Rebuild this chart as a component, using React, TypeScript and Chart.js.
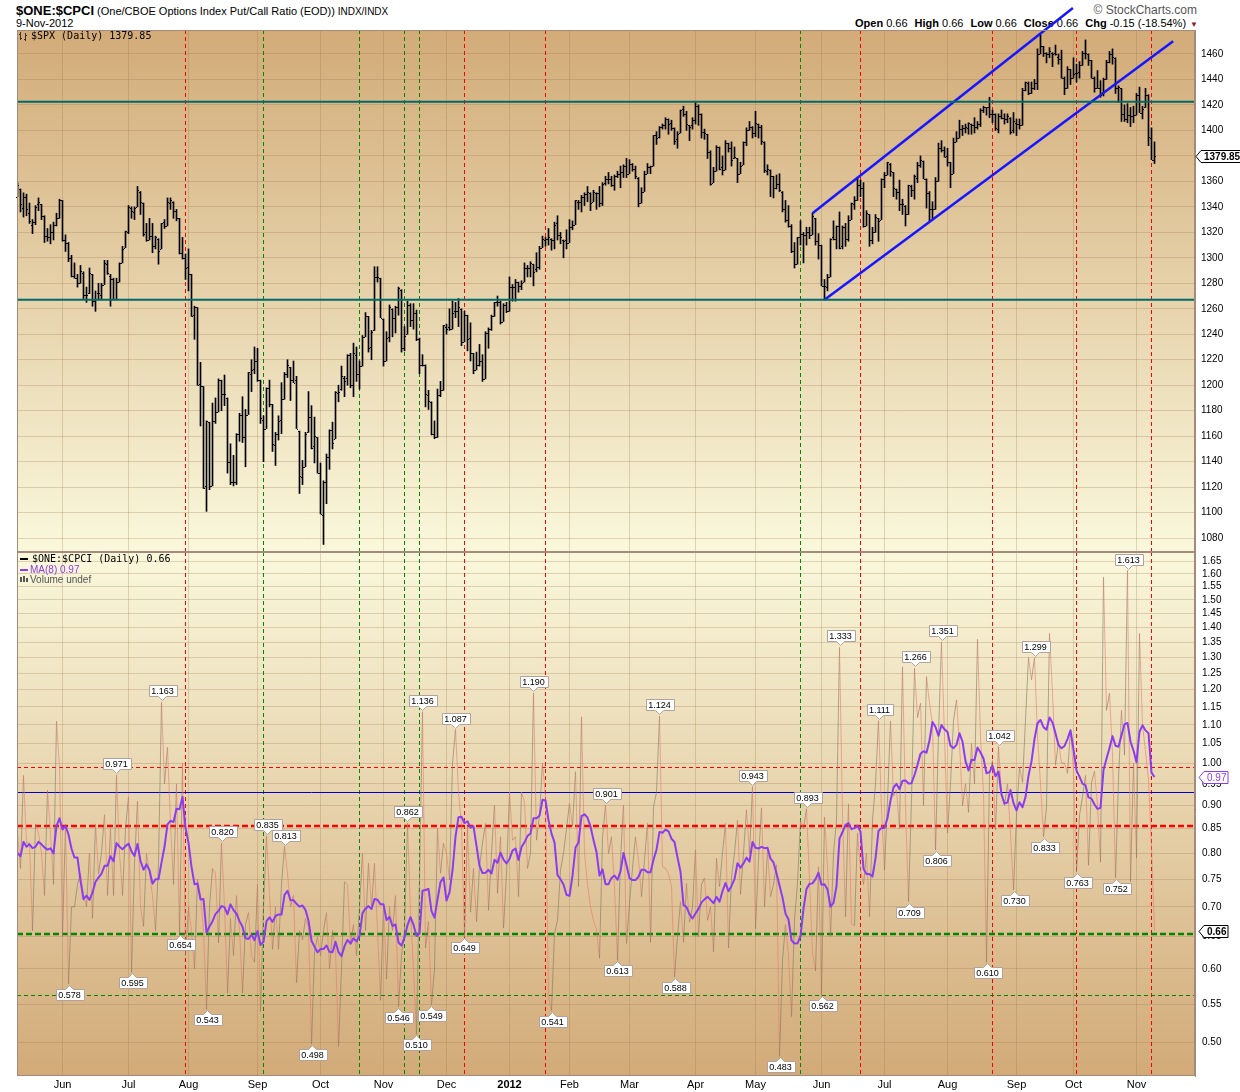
import React, { useEffect, useRef } from 'react';
import { Chart, registerables } from 'chart.js';

Chart.register(...registerables);

// ---------------- sessions ----------------
const firstSession = '2011-05-10';
const lastSession = '2012-11-09';
const marketHolidays = [
  '2011-05-30', '2011-07-04', '2011-09-05', '2011-11-24', '2011-12-26',
  '2012-01-02', '2012-01-16', '2012-02-20', '2012-04-06', '2012-05-28',
  '2012-07-04', '2012-09-03', '2012-10-29', '2012-10-30',
];
const monthNames = ['Jan', 'Feb', 'Mar', 'Apr', 'May', 'Jun', 'Jul', 'Aug', 'Sep', 'Oct', 'Nov', 'Dec'];

// ---------------- $SPX daily bars [open, high, low, close] ----------------
const spxMayAug2011 = [
  [1348,1359,1348,1357],[1354,1354,1336,1342],[1339,1351,1332,1348],[1348,1350,1333,1338],[1335,1343,1327,1329],
  [1326,1330,1319,1328],[1328,1341,1326,1340],[1342,1347,1337,1344],[1342,1342,1330,1333],[1333,1333,1312,1317],
  [1317,1323,1313,1316],[1316,1326,1311,1320],[1320,1328,1314,1326],[1326,1335,1325,1331],[1331,1346,1331,1345],
  [1345,1345,1313,1314],[1314,1318,1305,1312],[1312,1312,1297,1300],[1300,1302,1285,1286],[1286,1296,1284,1284],
  [1284,1287,1277,1280],[1280,1294,1280,1290],[1288,1289,1268,1271],[1271,1277,1265,1271],[1272,1292,1272,1288],
  [1287,1287,1262,1266],[1266,1274,1258,1268],[1272,1280,1267,1272],[1271,1280,1267,1279],[1279,1298,1279,1296],
  [1295,1298,1287,1288],[1286,1287,1262,1283],[1283,1284,1267,1268],[1268,1284,1267,1281],[1281,1296,1281,1296],
  [1296,1309,1296,1307],[1308,1321,1308,1321],
  [1320,1341,1319,1340],[1339,1340,1331,1337],[1336,1340,1330,1339],[1340,1356,1340,1353],[1352,1352,1334,1344],
  [1343,1343,1317,1319],[1320,1327,1313,1314],[1314,1331,1314,1317],[1317,1327,1304,1309],[1309,1317,1307,1316],
  [1315,1315,1295,1305],[1307,1327,1307,1327],[1328,1330,1323,1325],[1325,1347,1325,1344],[1343,1347,1338,1345],
  [1344,1344,1331,1337],[1337,1338,1329,1331],[1331,1331,1303,1304],[1304,1316,1299,1300],[1300,1303,1283,1292],
  [1293,1307,1274,1287],[1287,1287,1254,1254],[1255,1262,1236,1261],[1261,1261,1200,1200],[1201,1218,1168,1199],
  [1199,1199,1119,1119],[1121,1172,1101,1172],[1171,1171,1118,1121],[1121,1186,1121,1172],[1172,1190,1170,1179],
  [1179,1205,1179,1204],[1204,1204,1180,1193],[1193,1208,1184,1193],[1190,1190,1131,1140],[1140,1154,1122,1124],
  [1124,1145,1121,1124],[1124,1162,1122,1162],[1162,1178,1156,1177],[1177,1191,1155,1159],[1159,1181,1136,1177],
  [1177,1210,1177,1210],[1209,1220,1195,1212],[1213,1230,1209,1219],
];
const spxSepDec2011 = [
  [1219,1229,1203,1204],[1204,1204,1170,1174],[1173,1176,1140,1166],[1166,1198,1166,1198],[1198,1204,1183,1185],
  [1185,1185,1148,1154],[1153,1163,1137,1162],[1162,1176,1157,1172],[1173,1202,1162,1189],[1189,1210,1189,1209],
  [1209,1220,1206,1216],[1214,1214,1188,1204],[1204,1219,1202,1202],[1204,1207,1166,1166],[1164,1164,1115,1129],
  [1128,1141,1122,1136],[1136,1163,1136,1162],[1163,1195,1163,1175],[1175,1184,1150,1151],[1152,1175,1139,1160],
  [1159,1159,1131,1131],
  [1131,1139,1099,1099],[1098,1125,1075,1124],[1124,1146,1107,1144],[1144,1165,1134,1165],[1165,1171,1150,1155],
  [1158,1195,1158,1195],[1194,1200,1187,1195],[1197,1215,1196,1207],[1206,1207,1191,1203],[1206,1224,1200,1224],
  [1224,1225,1198,1200],[1200,1233,1191,1225],[1224,1230,1203,1209],[1209,1219,1197,1215],[1215,1239,1215,1238],
  [1238,1257,1238,1254],[1254,1254,1226,1229],[1230,1243,1220,1242],[1243,1293,1243,1285],[1285,1293,1281,1285],
  [1284,1284,1253,1253],
  [1252,1252,1215,1219],[1219,1242,1219,1237],[1238,1263,1234,1261],[1260,1260,1238,1253],[1253,1262,1241,1261],
  [1261,1277,1255,1276],[1275,1275,1226,1229],[1229,1246,1227,1239],[1240,1266,1240,1263],[1263,1264,1246,1251],
  [1251,1264,1244,1257],[1257,1259,1235,1236],[1236,1237,1209,1216],[1216,1224,1215,1216],[1216,1216,1183,1193],
  [1192,1196,1181,1188],[1187,1187,1161,1162],[1162,1172,1158,1159],[1159,1197,1159,1192],[1192,1203,1191,1196],
  [1196,1247,1196,1247],
  [1246,1248,1240,1244],[1246,1260,1243,1244],[1244,1266,1244,1257],[1258,1265,1253,1258],[1258,1268,1246,1261],
  [1260,1260,1231,1234],[1234,1258,1234,1255],[1255,1255,1227,1236],[1237,1249,1219,1225],[1225,1225,1209,1212],
  [1212,1226,1212,1216],[1216,1232,1215,1219],[1219,1224,1203,1205],[1205,1242,1205,1241],[1241,1245,1229,1244],
  [1244,1255,1243,1254],[1254,1265,1254,1265],[1265,1270,1262,1265],[1265,1266,1248,1250],[1250,1264,1250,1263],
  [1263,1265,1257,1258],
];
const spxJanApr2012 = [
  [1258,1285,1258,1277],[1277,1279,1266,1277],[1277,1283,1266,1281],[1281,1281,1273,1278],[1278,1282,1275,1280],
  [1281,1296,1281,1292],[1292,1294,1285,1292],[1292,1297,1285,1296],[1295,1295,1278,1289],[1291,1304,1289,1293],
  [1293,1309,1291,1308],[1308,1317,1308,1315],[1314,1316,1309,1315],[1315,1323,1310,1316],[1315,1315,1306,1314],
  [1314,1328,1307,1326],[1327,1333,1314,1318],[1318,1320,1311,1316],[1314,1314,1300,1313],[1314,1322,1307,1312],
  [1312,1330,1312,1324],[1324,1329,1322,1326],[1326,1345,1326,1345],[1344,1345,1338,1344],[1344,1349,1336,1348],
  [1348,1351,1341,1350],[1350,1356,1344,1352],[1351,1351,1337,1343],[1344,1353,1344,1352],[1351,1351,1338,1351],
  [1351,1356,1340,1343],[1343,1359,1341,1358],[1359,1364,1357,1362],[1362,1367,1358,1362],[1362,1364,1356,1357],
  [1357,1365,1353,1364],[1364,1368,1363,1366],[1366,1372,1355,1367],[1367,1373,1363,1372],[1372,1378,1363,1366],
  [1366,1377,1366,1374],[1374,1374,1368,1370],[1370,1372,1362,1364],[1363,1363,1340,1343],[1343,1355,1343,1352],
  [1352,1368,1352,1366],[1366,1374,1366,1371],[1371,1372,1366,1372],[1372,1396,1372,1396],[1396,1399,1389,1394],
  [1395,1403,1394,1403],[1403,1405,1401,1404],[1404,1410,1401,1409],[1409,1409,1397,1405],[1406,1408,1400,1402],
  [1402,1402,1389,1392],[1393,1399,1386,1397],[1398,1416,1398,1416],[1417,1419,1411,1413],[1413,1415,1400,1405],
  [1404,1404,1392,1403],[1404,1410,1401,1408],
  [1408,1422,1405,1419],[1419,1420,1404,1413],[1413,1413,1394,1399],[1399,1401,1393,1398],[1397,1397,1378,1383],
  [1383,1384,1357,1358],[1359,1371,1359,1368],[1368,1388,1368,1387],[1387,1387,1369,1370],[1371,1380,1365,1369],
  [1369,1392,1369,1390],[1390,1390,1383,1386],[1386,1391,1372,1377],[1378,1387,1378,1379],[1378,1378,1359,1366],
  [1366,1375,1366,1372],[1373,1391,1373,1391],[1391,1402,1388,1400],[1400,1407,1400,1403],[1403,1403,1394,1398],
];
const spxMayAug2012 = [
  [1398,1415,1395,1406],[1405,1405,1394,1403],[1403,1404,1389,1392],[1391,1391,1367,1369],[1368,1373,1365,1370],
  [1369,1369,1348,1364],[1364,1364,1347,1355],[1355,1365,1354,1358],[1358,1366,1352,1353],[1352,1352,1336,1338],
  [1338,1345,1328,1330],[1330,1341,1324,1325],[1325,1326,1304,1305],[1305,1312,1292,1295],[1295,1316,1295,1316],
  [1316,1329,1310,1319],[1319,1320,1296,1318],[1318,1324,1310,1320],[1320,1324,1315,1318],[1318,1335,1318,1333],
  [1331,1331,1310,1313],[1313,1319,1299,1310],
  [1310,1310,1278,1278],[1278,1283,1267,1278],[1277,1287,1274,1285],[1285,1315,1285,1315],[1316,1329,1314,1315],
  [1315,1325,1307,1325],[1325,1336,1307,1308],[1309,1325,1307,1324],[1324,1327,1309,1315],[1315,1333,1313,1330],
  [1330,1343,1330,1343],[1342,1348,1338,1345],[1345,1363,1345,1357],[1357,1361,1348,1355],[1355,1359,1324,1325],
  [1325,1337,1325,1335],[1334,1334,1309,1314],[1314,1324,1311,1320],[1320,1334,1320,1332],[1331,1331,1313,1329],
  [1330,1362,1330,1362],
  [1362,1367,1355,1365],[1365,1375,1365,1375],[1374,1374,1364,1368],[1367,1367,1348,1355],[1354,1354,1346,1352],
  [1352,1361,1337,1342],[1342,1346,1334,1342],[1341,1341,1325,1334],[1334,1357,1334,1357],[1356,1357,1348,1353],
  [1353,1365,1346,1364],[1363,1375,1359,1373],[1373,1380,1371,1377],[1376,1376,1362,1362],[1362,1362,1339,1351],
  [1351,1352,1329,1338],[1338,1344,1331,1338],[1338,1363,1338,1360],[1360,1390,1360,1386],[1386,1392,1383,1385],
  [1385,1387,1379,1379],
  [1380,1386,1372,1375],[1375,1375,1355,1366],[1366,1394,1366,1391],[1391,1399,1391,1394],[1394,1408,1394,1401],
  [1401,1404,1396,1402],[1402,1405,1398,1403],[1402,1406,1397,1406],[1405,1405,1397,1404],[1404,1410,1398,1403],
  [1403,1407,1401,1405],[1405,1417,1403,1416],[1416,1419,1414,1418],[1418,1418,1412,1418],[1418,1426,1410,1413],
  [1413,1416,1406,1413],[1413,1413,1400,1402],[1401,1413,1398,1411],[1411,1416,1409,1410],[1410,1413,1405,1409],
  [1409,1413,1406,1411],[1410,1410,1397,1399],[1400,1414,1398,1407],
];
const spxSepNov2012 = [
  [1406,1409,1396,1405],[1405,1409,1401,1404],[1404,1433,1404,1432],[1432,1438,1431,1438],[1437,1438,1428,1429],
  [1429,1438,1429,1433],[1433,1440,1432,1437],[1437,1464,1432,1460],[1460,1475,1460,1466],[1466,1466,1458,1461],
  [1461,1461,1453,1460],[1460,1465,1457,1462],[1461,1461,1450,1460],[1461,1467,1459,1460],[1458,1460,1452,1456],
  [1456,1463,1441,1441],[1441,1442,1428,1433],[1433,1450,1433,1448],[1448,1448,1436,1441],
  [1441,1457,1441,1444],[1445,1452,1438,1445],[1446,1454,1441,1451],[1451,1462,1451,1461],[1461,1471,1456,1461],
  [1460,1460,1451,1455],[1455,1455,1441,1441],[1441,1442,1430,1433],[1433,1447,1433,1433],[1433,1439,1426,1428],
  [1429,1441,1427,1440],[1440,1455,1440,1454],[1454,1462,1453,1460],[1460,1464,1452,1458],[1457,1457,1429,1433],
  [1433,1435,1422,1434],[1433,1433,1407,1413],[1413,1420,1407,1409],[1409,1421,1406,1412],[1412,1418,1403,1411],
  [1411,1419,1406,1412],
  [1412,1429,1412,1428],[1428,1434,1414,1414],[1414,1419,1409,1417],[1418,1433,1418,1428],[1428,1428,1388,1395],
  [1394,1402,1377,1377],[1377,1391,1374,1379.85],
];

// ---------------- $ONE:$CPCI daily ratio ----------------
const putCallPrior = [0.82, 0.74, 0.90, 0.78, 0.72, 0.84, 0.76];
const putCall2011 = [
  0.84, 0.77, 0.97, 0.82, 0.82, 0.66, 0.86, 0.84, 0.80, 0.72,
  0.935, 0.84, 0.74, 1.11, 0.99, 0.65, 0.86, 0.578, 0.70, 0.70,
  0.74, 0.76, 0.72, 0.70, 0.80, 0.68, 0.86, 0.76, 0.80, 0.88,
  0.72, 0.85, 0.72, 0.971, 0.80, 0.72, 0.85, 0.92, 0.595, 0.78,
  0.91, 0.70, 0.667, 0.80, 0.76, 0.72, 0.66, 0.78, 1.163, 0.95,
  1.04, 0.86, 0.74, 0.95, 0.654, 1.00, 0.62, 0.70, 0.66, 0.60,
  0.75, 0.72, 0.66, 0.543, 0.70, 0.77, 0.76, 0.64, 0.820, 0.70,
  0.565, 0.68, 0.62, 0.72, 0.66, 0.565, 0.67, 0.69, 0.62, 0.61,
  0.74, 0.54, 0.70, 0.835, 0.72, 0.63, 0.70, 0.63, 0.74, 0.813,
  0.76, 0.70, 0.72, 0.58, 0.66, 0.645, 0.68, 0.665, 0.498, 0.625,
  0.65, 0.62, 0.66, 0.69, 0.60, 0.66, 0.63, 0.495, 0.60, 0.745,
  0.74, 0.64, 0.67, 0.62, 0.70, 0.80, 0.66, 0.78, 0.70, 0.78,
  0.66, 0.555, 0.70, 0.585, 0.70, 0.66, 0.72, 0.546, 0.62, 0.66,
  0.862, 0.69, 0.60, 0.510, 0.75, 1.136, 0.632, 0.675, 0.549, 0.60,
  0.851, 0.761, 0.82, 0.80, 0.748, 1.00, 1.087, 0.93, 0.857, 0.649,
  0.855, 0.691, 0.77, 0.675, 0.773, 0.82, 0.861, 0.694, 0.799, 0.901,
  0.724, 0.833, 0.664, 0.761,
];
const putCall2012 = [
  0.931, 0.826, 0.833, 0.718, 0.931, 0.908,
  0.77, 0.80, 1.190, 0.826, 0.879, 1.00, 0.92, 0.56, 0.541, 0.655,
  0.677, 0.767, 0.80, 0.85, 0.905, 0.855, 0.979, 0.736, 1.122, 0.80,
  0.74, 0.70, 0.677, 0.661, 0.616, 0.83, 0.901, 0.799, 0.833, 0.736,
  0.613, 0.787, 0.901, 0.639, 0.706, 0.77, 0.833, 0.787, 0.718, 0.787,
  0.861, 0.641, 0.897, 0.93, 1.124, 0.773, 0.77, 0.76, 0.736, 0.588,
  0.65, 0.709, 0.641, 0.742, 0.674, 0.70, 0.806, 0.65, 0.74, 0.752,
  0.677, 0.70, 0.626, 0.79, 0.736, 0.80, 0.861, 0.632, 0.754, 0.80,
  0.868, 0.722, 0.80, 0.891, 0.799, 0.943, 0.663, 0.787, 0.895, 0.70,
  0.806, 0.718, 0.74, 0.777, 0.483, 0.613, 0.67, 0.62, 0.533, 0.677,
  0.743, 0.868, 0.85, 0.893, 0.748, 0.624, 0.597, 0.773, 0.562, 0.875,
  0.773, 0.65, 0.80, 0.868, 1.333, 0.882, 0.683, 0.904, 0.671, 0.668,
  0.841, 0.767, 0.74, 0.80, 0.683, 0.868, 0.95, 1.111, 0.893, 0.767,
  0.91, 1.11, 0.922, 0.936, 0.85, 1.27, 0.90, 0.709, 0.915, 1.266,
  1.12, 1.16, 0.90, 1.24, 1.16, 1.10, 0.806, 1.076, 1.351, 1.068,
  0.841, 0.951, 1.11, 1.17, 1.05, 0.90, 0.95, 0.885, 1.05, 0.95,
  1.36, 1.068, 0.929, 0.61, 0.973, 1.007, 0.847, 1.042, 0.928, 0.90,
  0.95, 0.84, 0.730, 0.879, 0.99, 0.953, 1.113, 1.30, 1.23, 1.299,
  1.07, 0.95, 0.833, 0.897, 1.38, 1.19, 0.995, 1.055, 1.0, 1.0,
  0.975, 1.085, 0.98, 0.763, 0.879, 0.92, 0.97, 0.776, 0.953, 0.98,
  0.90, 0.782, 1.587, 1.14, 1.19, 1.023, 0.752, 0.96, 1.14, 1.02,
  1.613, 0.745, 1.0, 0.79, 1.38, 1.10, 1.03, 0.96, 0.8102, 0.66,
];
const maPeriod = 8;

// labelled turning points (session indices)
const peakIdx = [33, 48, 68, 83, 89, 130, 135, 146, 172, 196, 214, 245, 263, 274, 287, 299, 308, 327, 339, 370];
const troughIdx = [17, 38, 54, 63, 98, 127, 133, 138, 149, 178, 200, 219, 254, 268, 297, 306, 323, 332, 342, 353, 366];

// ---------------- annotations ----------------
const spxTicks = [1080, 1100, 1120, 1140, 1160, 1180, 1200, 1220, 1240, 1260, 1280, 1300, 1320, 1340, 1360, 1380, 1400, 1420, 1440, 1460];
const ratioTicks = [0.50, 0.55, 0.60, 0.65, 0.70, 0.75, 0.80, 0.85, 0.90, 0.95, 1.00, 1.05, 1.10, 1.15, 1.20, 1.25, 1.30, 1.35, 1.40, 1.45, 1.50, 1.55, 1.60, 1.65];
const spxLevels = [1422.4, 1267.0];
const channelUpper = [[265, 1335], [351.8, 1496]];
const channelLower = [[269, 1267], [385.2, 1470]];
const ratioLevels = [0.99, 0.93, 0.855, 0.655, 0.563];
const redMarkerDates = ['2011-07-29', '2011-12-09', '2012-01-20', '2012-06-20', '2012-08-22', '2012-10-02', '2012-11-08'];
const greenMarkerDates = ['2011-09-06', '2011-10-20', '2011-11-10', '2011-11-17', '2012-05-22'];

// ---------------- styling ----------------
const X_MIN = -1 / 6;
const X_MAX = 392.5;
const SPX_MIN = 1069.1;
const SPX_MAX = 1478.8;
const RATIO_MIN = 0.46;
const RATIO_MAX = 1.689;
const GRID = 'rgba(150,115,70,0.27)';
const FRAME = '#a48a7a';
const SANS = '"Liberation Sans", Arial, sans-serif';
const MONO = '"DejaVu Sans Mono", monospace';
const MA_COLOR = '#8c3cf0';
const ratioLevelStyles = [
  { color: '#ff0000', width: 1, dash: [4, 3] },
  { color: '#0000c8', width: 1, dash: [] },
  { color: '#ff0000', width: 2.5, dash: [6, 3] },
  { color: '#008800', width: 2.5, dash: [6, 3] },
  { color: '#008800', width: 1, dash: [4, 3] },
];

// ---------------- derived ----------------
function buildSessions() {
  const out: string[] = [];
  const d = new Date(firstSession + 'T12:00:00Z');
  const end = new Date(lastSession + 'T12:00:00Z');
  while (d.getTime() <= end.getTime()) {
    const dow = d.getUTCDay();
    const iso = d.toISOString().slice(0, 10);
    if (dow !== 0 && dow !== 6 && marketHolidays.indexOf(iso) < 0) out.push(iso);
    d.setUTCDate(d.getUTCDate() + 1);
  }
  return out;
}
const sessions = buildSessions();
const spxBars = [...spxMayAug2011, ...spxSepDec2011, ...spxJanApr2012, ...spxMayAug2012, ...spxSepNov2012];
const putCall = [...putCall2011, ...putCall2012];
const maValues = (() => {
  const full = [...putCallPrior, ...putCall];
  const out: number[] = [];
  for (let i = 0; i < putCall.length; i++) {
    let s = 0;
    for (let k = 0; k < maPeriod; k++) s += full[i + putCallPrior.length - k];
    out.push(s / maPeriod);
  }
  return out;
})();
const monthTicks = (() => {
  const out: { idx: number; label: string; bold: boolean }[] = [];
  for (let i = 1; i < sessions.length; i++) {
    if (sessions[i].slice(5, 7) !== sessions[i - 1].slice(5, 7)) {
      const m = parseInt(sessions[i].slice(5, 7), 10) - 1;
      out.push({ idx: i, label: m === 0 ? sessions[i].slice(0, 4) : monthNames[m], bold: m === 0 });
    }
  }
  return out;
})();

function drawMarkers(chart: any) {
  const { ctx, chartArea: a, scales } = chart;
  const x = scales.x;
  ctx.save();
  ctx.lineWidth = 1;
  ctx.setLineDash([4, 3]);
  const groups: [string[], string][] = [[redMarkerDates, '#ff0000'], [greenMarkerDates, '#008800']];
  for (const [dates, color] of groups) {
    ctx.strokeStyle = color;
    for (const d of dates) {
      const i = sessions.indexOf(d);
      if (i < 0) continue;
      const px = Math.floor(x.getPixelForValue(i)) + 0.5;
      ctx.beginPath();
      ctx.moveTo(px, a.top);
      ctx.lineTo(px, a.bottom);
      ctx.stroke();
    }
  }
  ctx.restore();
}

function fillPanel(chart: any, c0: string, c1: string) {
  const { ctx, chartArea: a } = chart;
  const g = ctx.createLinearGradient(0, a.top, 0, a.bottom);
  g.addColorStop(0, c0);
  g.addColorStop(1, c1);
  ctx.save();
  ctx.fillStyle = g;
  ctx.fillRect(a.left, a.top, a.right - a.left, a.bottom - a.top);
  ctx.restore();
}

function drawFrame(chart: any) {
  const { ctx, chartArea: a } = chart;
  ctx.save();
  ctx.strokeStyle = FRAME;
  ctx.lineWidth = 1;
  ctx.strokeRect(a.left + 0.5, a.top + 0.5, a.right - a.left - 1, a.bottom - a.top - 1);
  ctx.restore();
}

function priceTag(ctx: any, xTip: number, y: number, text: string, color: string, bold: boolean) {
  ctx.save();
  ctx.font = (bold ? 'bold ' : '') + '10px ' + SANS;
  const w = Math.round(ctx.measureText(text).width) + 5;
  const h = 12;
  const yy = Math.round(y) + 0.5;
  const x0 = xTip + 5;
  ctx.beginPath();
  ctx.moveTo(xTip, yy);
  ctx.lineTo(x0, yy - h / 2);
  ctx.lineTo(x0 + w, yy - h / 2);
  ctx.lineTo(x0 + w, yy + h / 2);
  ctx.lineTo(x0, yy + h / 2);
  ctx.closePath();
  ctx.fillStyle = '#ffffff';
  ctx.fill();
  ctx.strokeStyle = color;
  ctx.lineWidth = 1;
  ctx.stroke();
  ctx.fillStyle = color;
  ctx.textAlign = 'left';
  ctx.textBaseline = 'middle';
  ctx.fillText(text, x0 + 3, yy + 0.5);
  ctx.restore();
}

function valueLabel(ctx: any, x: number, y: number, text: string, above: boolean) {
  ctx.font = '9px ' + SANS;
  const w = Math.round(ctx.measureText(text).width) + 5;
  const h = 11;
  const cx = Math.round(x) + 0.5;
  const left = Math.round(cx - w / 2) + 0.5;
  const right = left + w;
  let textY;
  ctx.beginPath();
  if (above) {
    const tip = Math.round(y) - 1.5;
    const bottom = tip - 4;
    const top = bottom - h;
    ctx.moveTo(left, top);
    ctx.lineTo(right, top);
    ctx.lineTo(right, bottom);
    ctx.lineTo(cx + 4, bottom);
    ctx.lineTo(cx, tip);
    ctx.lineTo(cx - 4, bottom);
    ctx.lineTo(left, bottom);
    ctx.closePath();
    textY = (top + bottom) / 2;
  } else {
    const tip = Math.round(y) + 1.5;
    const top = tip + 4;
    const bottom = top + h;
    ctx.moveTo(left, top);
    ctx.lineTo(cx - 4, top);
    ctx.lineTo(cx, tip);
    ctx.lineTo(cx + 4, top);
    ctx.lineTo(right, top);
    ctx.lineTo(right, bottom);
    ctx.lineTo(left, bottom);
    ctx.closePath();
    textY = (top + bottom) / 2;
  }
  ctx.fillStyle = '#ffffff';
  ctx.fill();
  ctx.strokeStyle = '#b4a29a';
  ctx.lineWidth = 1;
  ctx.stroke();
  ctx.fillStyle = '#000000';
  ctx.textAlign = 'center';
  ctx.textBaseline = 'middle';
  ctx.fillText(text, cx, textY + 0.5);
}

const topPanelPlugin = {
  id: 'spxPanel',
  beforeDraw(chart: any) {
    fillPanel(chart, '#d2ab78', '#faf8dc');
  },
  beforeDatasetsDraw(chart: any) {
    drawMarkers(chart);
  },
  afterDatasetsDraw(chart: any) {
    const { ctx, chartArea: a, scales } = chart;
    const xs = scales.x;
    const ys = scales.y;
    ctx.save();
    ctx.strokeStyle = '#000';
    ctx.lineWidth = 1;
    ctx.beginPath();
    spxBars.forEach((b, i) => {
      const x = xs.getPixelForValue(i);
      const yo = Math.round(ys.getPixelForValue(b[0])) + 0.5;
      const yc = Math.round(ys.getPixelForValue(b[3])) + 0.5;
      ctx.moveTo(x - 1.5, yo);
      ctx.lineTo(x - 0.5, yo);
      ctx.moveTo(x + 0.5, yc);
      ctx.lineTo(x + 1.5, yc);
    });
    ctx.stroke();
    ctx.strokeStyle = '#006a6a';
    ctx.lineWidth = 2;
    for (const lv of spxLevels) {
      const y = ys.getPixelForValue(lv);
      ctx.beginPath();
      ctx.moveTo(a.left, y);
      ctx.lineTo(a.right, y);
      ctx.stroke();
    }
    ctx.restore();
  },
  afterDraw(chart: any) {
    const { ctx, chartArea: a, scales } = chart;
    drawFrame(chart);
    ctx.save();
    ctx.strokeStyle = '#333';
    ctx.lineWidth = 1;
    ctx.beginPath();
    ctx.moveTo(20.5, 32); ctx.lineTo(20.5, 40);
    ctx.moveTo(19, 34.5); ctx.lineTo(20.5, 34.5);
    ctx.moveTo(20.5, 38.5); ctx.lineTo(22, 38.5);
    ctx.moveTo(25.5, 33); ctx.lineTo(25.5, 41);
    ctx.moveTo(24, 39.5); ctx.lineTo(25.5, 39.5);
    ctx.moveTo(25.5, 35.5); ctx.lineTo(27, 35.5);
    ctx.stroke();
    const last = spxBars[spxBars.length - 1][3];
    ctx.font = '10px ' + MONO;
    ctx.fillStyle = '#000';
    ctx.textBaseline = 'middle';
    ctx.textAlign = 'left';
    ctx.fillText('$SPX (Daily) ' + last.toFixed(2), 31, a.top + 6.5);
    ctx.restore();
    priceTag(ctx, a.right + 1, scales.y.getPixelForValue(last), last.toFixed(2), '#000', true);
  },
};

const bottomPanelPlugin = {
  id: 'ratioPanel',
  beforeDraw(chart: any) {
    fillPanel(chart, '#faf8dc', '#d2aa78');
  },
  beforeDatasetsDraw(chart: any) {
    const { ctx, chartArea: a, scales } = chart;
    drawMarkers(chart);
    ctx.save();
    ratioLevels.forEach((lv, k) => {
      const st = ratioLevelStyles[k];
      const y = Math.round(scales.y.getPixelForValue(lv)) + (st.width === 1 ? 0.5 : 0);
      ctx.strokeStyle = st.color;
      ctx.lineWidth = st.width;
      ctx.setLineDash(st.dash);
      ctx.beginPath();
      ctx.moveTo(a.left, y);
      ctx.lineTo(a.right, y);
      ctx.stroke();
    });
    ctx.restore();
  },
  afterDatasetsDraw(chart: any) {
    const { ctx, scales } = chart;
    ctx.save();
    for (const i of peakIdx) valueLabel(ctx, scales.x.getPixelForValue(i), scales.y.getPixelForValue(putCall[i]), putCall[i].toFixed(3), true);
    for (const i of troughIdx) valueLabel(ctx, scales.x.getPixelForValue(i), scales.y.getPixelForValue(putCall[i]), putCall[i].toFixed(3), false);
    ctx.restore();
  },
  afterDraw(chart: any) {
    const { ctx, chartArea: a, scales } = chart;
    drawFrame(chart);
    const lastV = putCall[putCall.length - 1];
    const lastMa = maValues[maValues.length - 1];
    ctx.save();
    ctx.textBaseline = 'middle';
    ctx.textAlign = 'left';
    ctx.lineWidth = 2;
    ctx.strokeStyle = '#000';
    ctx.beginPath(); ctx.moveTo(20, a.top + 7); ctx.lineTo(28, a.top + 7); ctx.stroke();
    ctx.font = '10px ' + MONO;
    ctx.fillStyle = '#000';
    ctx.fillText('$ONE:$CPCI (Daily) ' + lastV.toFixed(2), 32, a.top + 7.5);
    ctx.strokeStyle = MA_COLOR;
    ctx.beginPath(); ctx.moveTo(20, a.top + 18); ctx.lineTo(28, a.top + 18); ctx.stroke();
    ctx.font = '10px ' + SANS;
    ctx.fillStyle = MA_COLOR;
    ctx.fillText('MA(8) ' + lastMa.toFixed(2), 30, a.top + 18.5);
    ctx.fillStyle = '#555';
    ctx.fillRect(20, a.top + 25, 2, 5);
    ctx.fillRect(23, a.top + 24, 2, 6);
    ctx.fillRect(26, a.top + 26, 2, 4);
    ctx.fillText('Volume undef', 30, a.top + 28.5);
    ctx.restore();
    priceTag(ctx, a.right + 4, scales.y.getPixelForValue(lastMa), lastMa.toFixed(2), MA_COLOR, false);
    priceTag(ctx, a.right + 4, scales.y.getPixelForValue(lastV), lastV.toFixed(2), '#000', true);
  },
};

function monthAxis(showLabels: boolean) {
  const janIdx = monthTicks.filter((t) => t.bold).map((t) => t.idx);
  return {
    type: 'linear',
    min: X_MIN,
    max: X_MAX,
    offset: false,
    afterBuildTicks: (s: any) => {
      s.ticks = monthTicks.map((t) => ({ value: t.idx }));
    },
    afterFit: (s: any) => {
      s.height = showLabels ? 16 : 0;
      s.paddingLeft = 0;
      s.paddingRight = 0;
    },
    ticks: {
      display: showLabels,
      autoSkip: false,
      maxRotation: 0,
      padding: 2,
      color: '#000',
      font: (c: any) => ({
        family: SANS,
        size: 11,
        weight: c.tick && janIdx.indexOf(c.tick.value) >= 0 ? 'bold' : 'normal',
      }),
      callback: (v: any) => {
        const t = monthTicks.find((m) => m.idx === v);
        return t ? t.label : '';
      },
    },
    grid: { color: GRID, drawTicks: false, offset: false },
    border: { display: false },
  };
}

function priceAxis(extra: any) {
  return {
    position: 'right',
    afterFit: (s: any) => {
      s.width = 45;
      s.paddingTop = 0;
      s.paddingBottom = 0;
    },
    grid: { color: GRID, drawTicks: false },
    border: { color: FRAME },
    ...extra,
  };
}

function buildTop(canvas: HTMLCanvasElement) {
  return new Chart(canvas, {
    type: 'line',
    data: {
      datasets: [
        {
          type: 'line',
          data: channelUpper.map(([x, y]) => ({ x, y })),
          borderColor: '#1616ff',
          borderWidth: 2.5,
          pointRadius: 0,
          clip: false,
          order: 1,
        },
        {
          type: 'line',
          data: channelLower.map(([x, y]) => ({ x, y })),
          borderColor: '#1616ff',
          borderWidth: 2.5,
          pointRadius: 0,
          clip: false,
          order: 1,
        },
        {
          type: 'bar',
          data: spxBars.map((b, i) => ({ x: i, y: [b[2], b[1]] })),
          backgroundColor: '#000',
          borderWidth: 0,
          barThickness: 1,
          order: 2,
        },
      ],
    } as any,
    options: {
      responsive: false,
      animation: false,
      devicePixelRatio: 1,
      events: [],
      layout: { padding: { left: 17, top: 30, right: 0, bottom: 0 } },
      plugins: { legend: { display: false }, tooltip: { enabled: false } },
      scales: {
        x: monthAxis(false),
        y: priceAxis({
          type: 'linear',
          min: SPX_MIN,
          max: SPX_MAX,
          beginAtZero: false,
          afterBuildTicks: (s: any) => {
            s.ticks = spxTicks.map((v) => ({ value: v }));
          },
          ticks: {
            autoSkip: false,
            padding: 6,
            color: '#000',
            font: { family: SANS, size: 10 },
            callback: (v: any) => String(v),
          },
        }),
      },
    } as any,
    plugins: [topPanelPlugin],
  });
}

function buildBottom(canvas: HTMLCanvasElement) {
  const up = 'rgba(120,118,95,0.58)';
  const down = 'rgba(232,118,105,0.58)';
  return new Chart(canvas, {
    type: 'line',
    data: {
      datasets: [
        {
          data: maValues.map((v, i) => ({ x: i, y: v })),
          borderColor: MA_COLOR,
          borderWidth: 2,
          pointRadius: 0,
          borderJoinStyle: 'round',
          order: 1,
        },
        {
          data: putCall.map((v, i) => ({ x: i, y: v })),
          borderColor: up,
          borderWidth: 1,
          pointRadius: 0,
          segment: {
            borderColor: (c: any) => (c.p1.parsed.y >= c.p0.parsed.y ? up : down),
          },
          order: 2,
        },
      ],
    } as any,
    options: {
      responsive: false,
      animation: false,
      devicePixelRatio: 1,
      events: [],
      layout: { padding: { left: 17, top: 0, right: 0, bottom: 0 } },
      plugins: { legend: { display: false }, tooltip: { enabled: false } },
      scales: {
        x: monthAxis(true),
        y: priceAxis({
          type: 'logarithmic',
          min: RATIO_MIN,
          max: RATIO_MAX,
          afterBuildTicks: (s: any) => {
            s.ticks = ratioTicks.map((v) => ({ value: v }));
          },
          ticks: {
            autoSkip: false,
            padding: 7,
            color: '#000',
            font: { family: SANS, size: 10 },
            callback: (v: any) => Number(v).toFixed(2),
          },
        }),
      },
    } as any,
    plugins: [bottomPanelPlugin],
  });
}

export default function App() {
  const topRef = useRef<HTMLCanvasElement>(null);
  const botRef = useRef<HTMLCanvasElement>(null);
  useEffect(() => {
    document.body.style.margin = '0';
    const top = buildTop(topRef.current as HTMLCanvasElement);
    const bot = buildBottom(botRef.current as HTMLCanvasElement);
    return () => {
      top.destroy();
      bot.destroy();
    };
  }, []);
  const lbl = { fontWeight: 'bold' as const, marginRight: 3 };
  const grp = { marginRight: 7 };
  return (
    <div style={{ position: 'relative', width: 1240, height: 1092, background: '#fff', overflow: 'hidden', fontFamily: SANS, color: '#000' }}>
      <div style={{ position: 'absolute', left: 16, top: 2, whiteSpace: 'nowrap', lineHeight: '16px' }}>
        <span style={{ fontWeight: 'bold', fontSize: 13 }}>$ONE:$CPCI</span>
        <span style={{ fontSize: 11 }}> (One/CBOE Options Index Put/Call Ratio (EOD))</span>
        <span style={{ fontSize: 10 }}> INDX/INDX</span>
      </div>
      <div style={{ position: 'absolute', left: 16, top: 16, fontSize: 11, lineHeight: '14px' }}>9-Nov-2012</div>
      <div style={{ position: 'absolute', right: 43, top: 2, fontSize: 12, lineHeight: '16px', color: '#555' }}>© StockCharts.com</div>
      <div style={{ position: 'absolute', right: 42, top: 16, fontSize: 11, lineHeight: '14px', whiteSpace: 'nowrap' }}>
        <span style={lbl}>Open</span><span style={grp}>0.66</span>
        <span style={lbl}>High</span><span style={grp}>0.66</span>
        <span style={lbl}>Low</span><span style={grp}>0.66</span>
        <span style={lbl}>Close</span><span style={grp}>0.66</span>
        <span style={lbl}>Chg</span><span>-0.15 (-18.54%)</span>
        <span style={{ color: '#8b1a3a', fontSize: 8, marginLeft: 4 }}>▼</span>
      </div>
      <canvas ref={topRef} width={1240} height={552} style={{ position: 'absolute', left: 0, top: 0 }} />
      <canvas ref={botRef} width={1240} height={540} style={{ position: 'absolute', left: 0, top: 552 }} />
    </div>
  );
}
